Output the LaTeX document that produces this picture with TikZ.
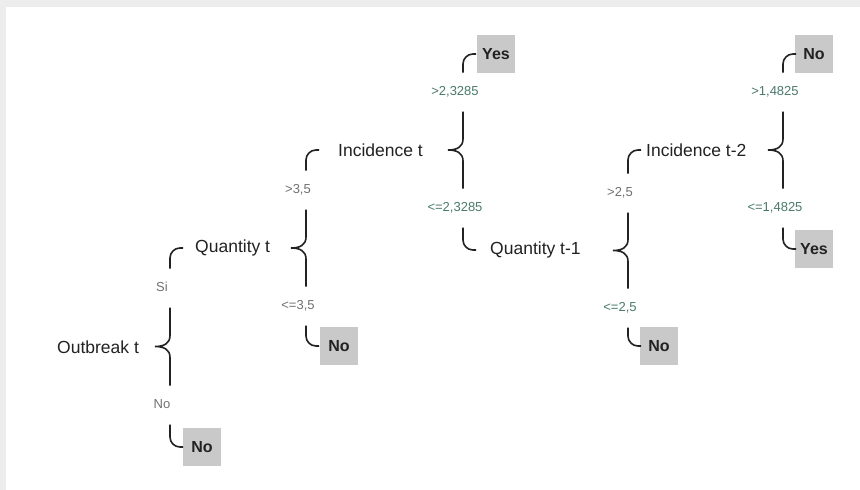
\documentclass[tikz,border=0pt]{standalone}
\usepackage{fontspec}
\setmainfont{Liberation Sans}
\usetikzlibrary{calc}

\definecolor{bandgray}{HTML}{EDEDED}
\definecolor{leafgray}{HTML}{C9C9C9}
\definecolor{thrteal}{HTML}{4A7A6C}
\definecolor{lblgray}{HTML}{707070}
\definecolor{inkdark}{HTML}{222222}

\begin{document}
\begin{tikzpicture}[
    x=1pt, y=-1pt,
    every node/.style={text=inkdark},
    attr/.style={anchor=west, inner xsep=1pt, font=\fontsize{17.5}{20}\selectfont},
    leaf/.style={rectangle, fill=leafgray, minimum width=38pt, minimum height=38pt, font=\bfseries\fontsize{16}{18}\selectfont},
    cond/.style={inner sep=0pt, text height=9pt, text depth=2pt, outer ysep=14pt, text=lblgray, font=\fontsize{13}{15}\selectfont},
    condnum/.style={cond, text=thrteal},
    conn/.style={draw=inkdark, line width=1.6pt},
    brc/.style={to path={let \p1=(\tikztostart), \p2=(\tikztotarget), \p3=($(\tikztostart)!0.5!(\tikztotarget)$) in
        (\x1+8pt,\y1) -- (\x1+8pt,\y3+11pt)
        .. controls (\x1+8pt,\y3+3pt) and (\x1+2pt,\y3) .. (\x1-7pt,\y3)
        .. controls (\x1+2pt,\y3) and (\x1+8pt,\y3-3pt) .. (\x1+8pt,\y3-11pt)
        -- (\x1+8pt,\y2)}},
    hook/.style={rounded corners=10pt, to path={let \p1=(\tikztostart), \p2=(\tikztotarget) in
        (\x1+8pt,\y1) |- (\x1+21pt,\y2)}}
]
    % page and frame bands
    \useasboundingbox (0,0) rectangle (860,490);
    \fill[white] (0,0) rectangle (860,490);
    \fill[bandgray] (0,0) rectangle (860,7);
    \fill[bandgray] (0,0) rectangle (6,490);

    % split on outbreak
    \node[attr] (outbreak) at (56,347) {Outbreak t};
    \node[cond] (si) at (162,288) {Si};
    \node[cond] (no0) at (162,405) {No};
    \node[attr] (qty) at (194,248) {Quantity t};
    \node[leaf] (leafA) at (202,447) {No};

    % split on quantity
    \node[cond] (gtA) at (298,190) {>3,5};
    \node[cond] (leA) at (298,306) {<=3,5};
    \node[attr] (inc) at (337,150) {Incidence t};
    \node[leaf] (leafB) at (339,346) {No};

    % split on incidence
    \node[condnum] (gtB) at (455,92) {>2,3285};
    \node[condnum] (leB) at (455,208) {<=2,3285};
    \node[leaf] (leafC) at (496,54) {Yes};
    \node[attr] (qty1) at (489,250) {Quantity t-1};

    % split on quantity t-1
    \node[cond] (gtC) at (620,193) {>2,5};
    \node[condnum] (leC) at (620,308) {<=2,5};
    \node[attr] (inc2) at (645,150) {Incidence t-2};
    \node[leaf] (leafD) at (659,346) {No};

    % split on incidence t-2
    \node[condnum] (gtD) at (775,92) {>1,4825};
    \node[condnum] (leD) at (775,208) {<=1,4825};
    \node[leaf] (leafE) at (814,54) {No};
    \node[leaf] (leafF) at (814,249) {Yes};

    \draw[conn, brc] (si.south) to (no0.north);
    \draw[conn, hook] (si.north) to (qty.west);
    \draw[conn, hook] (no0.south) to (leafA.west);

    \draw[conn, brc] (gtA.south) to (leA.north);
    \draw[conn, hook] (gtA.north) to (inc.west);
    \draw[conn, hook] (leA.south) to (leafB.west);

    \draw[conn, brc] (gtB.south) to (leB.north);
    \draw[conn, hook] (gtB.north) to (leafC.west);
    \draw[conn, hook] (leB.south) to (qty1.west);

    \draw[conn, brc] (gtC.south) to (leC.north);
    \draw[conn, hook] (gtC.north) to (inc2.west);
    \draw[conn, hook] (leC.south) to (leafD.west);

    \draw[conn, brc] (gtD.south) to (leD.north);
    \draw[conn, hook] (gtD.north) to (leafE.west);
    \draw[conn, hook] (leD.south) to (leafF.west);
\end{tikzpicture}
\end{document}
